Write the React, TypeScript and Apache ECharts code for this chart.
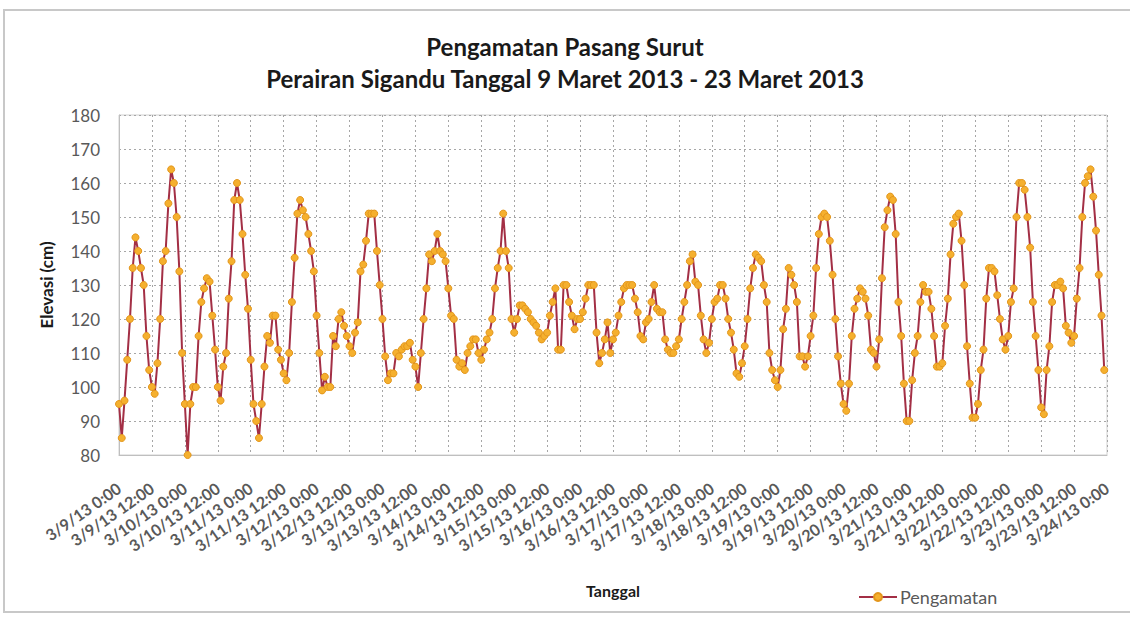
import React, { useEffect, useRef } from "react";
import * as echarts from "echarts";

// Hourly observed elevation (cm), starting 3/9/13 0:00
const elevasi: number[] = [
  95, 85, 96, 108, 120, 135, 144, 140, 135, 130,
  115, 105, 100, 98, 107, 120, 137, 140, 154, 164,
  160, 150, 134, 110, 95, 80, 95, 100, 100, 115,
  125, 129, 132, 131, 121, 111, 100, 96, 106, 110,
  126, 137, 155, 160, 155, 145, 133, 123, 108, 95,
  90, 85, 95, 106, 115, 113, 121, 121, 111, 108,
  104, 102, 110, 125, 138, 151, 155, 152, 150, 145,
  140, 134, 121, 110, 99, 103, 100, 100, 115, 112,
  120, 122, 118, 115, 112, 110, 116, 119, 134, 136,
  143, 151, 151, 151, 140, 130, 120, 109, 102, 104,
  104, 110, 109, 111, 112, 112, 113, 108, 106, 100,
  110, 120, 129, 139, 137, 140, 145, 140, 139, 137,
  129, 121, 120, 108, 106, 107, 105, 110, 112, 114,
  114, 110, 108, 111, 114, 116, 120, 129, 135, 140,
  151, 140, 135, 120, 116, 120, 124, 124, 123, 122,
  120, 119, 118, 116, 114, 115, 116, 121, 125, 129,
  111, 111, 130, 130, 125, 121, 117, 120, 120, 122,
  126, 130, 130, 130, 116, 107, 110, 114, 119, 110,
  114, 116, 121, 125, 129, 130, 130, 130, 126, 122,
  115, 114, 119, 120, 125, 130, 123, 122, 122, 114,
  111, 110, 110, 112, 114, 120, 125, 130, 137, 139,
  131, 130, 121, 114, 110, 113, 120, 125, 126, 130,
  130, 126, 120, 116, 111, 104, 103, 107, 112, 120,
  129, 135, 139, 138, 137, 130, 125, 110, 105, 102,
  100, 105, 117, 123, 135, 133, 130, 125, 109, 109,
  106, 109, 115, 121, 135, 145, 150, 151, 150, 143,
  133, 120, 109, 101, 95, 93, 101, 115, 123, 126,
  129, 128, 126, 121, 111, 110, 106, 114, 132, 147,
  152, 156, 155, 145, 125, 115, 101, 90, 90, 102,
  110, 115, 125, 130, 128, 128, 123, 115, 106, 106,
  107, 118, 126, 139, 148, 150, 151, 143, 130, 112,
  101, 91, 91, 95, 105, 111, 126, 135, 135, 134,
  127, 120, 114, 111, 115, 125, 129, 150, 160, 160,
  158, 150, 141, 125, 115, 105, 94, 92, 105, 112,
  125, 130, 130, 131, 129, 118, 116, 113, 115, 126,
  135, 150, 160, 162, 164, 156, 146, 133, 121, 105,
];

// Tick labels, one every 12 hours
const tickLabels: string[] = [
  "3/9/13 0:00", "3/9/13 12:00", "3/10/13 0:00", "3/10/13 12:00",
  "3/11/13 0:00", "3/11/13 12:00", "3/12/13 0:00", "3/12/13 12:00",
  "3/13/13 0:00", "3/13/13 12:00", "3/14/13 0:00", "3/14/13 12:00",
  "3/15/13 0:00", "3/15/13 12:00", "3/16/13 0:00", "3/16/13 12:00",
  "3/17/13 0:00", "3/17/13 12:00", "3/18/13 0:00", "3/18/13 12:00",
  "3/19/13 0:00", "3/19/13 12:00", "3/20/13 0:00", "3/20/13 12:00",
  "3/21/13 0:00", "3/21/13 12:00", "3/22/13 0:00", "3/22/13 12:00",
  "3/23/13 0:00", "3/23/13 12:00", "3/24/13 0:00",
];

const yMin = 80;
const yMax = 180;
const yStep = 10;
const hoursPerTick = 12;

const titleLine1 = "Pengamatan Pasang Surut";
const titleLine2 = "Perairan Sigandu Tanggal 9 Maret 2013 - 23 Maret 2013";
const seriesName = "Pengamatan";

export default function App() {
  const ref = useRef<HTMLDivElement>(null);

  useEffect(() => {
    if (!ref.current) return;
    const chart = echarts.init(ref.current, null, { renderer: "svg" });
    const data = elevasi.map((v, i) => [i, v]);
    const font = "Lato, 'Open Sans', sans-serif";
    chart.setOption({
      animation: false,
      backgroundColor: "#ffffff",
      textStyle: { fontFamily: font },
      title: [
        {
          text: titleLine1,
          left: "center",
          top: 29,
          textStyle: { fontFamily: font, fontSize: 24, fontWeight: "bold", color: "#1a1a1a" },
        },
        {
          text: titleLine2,
          left: "center",
          top: 61,
          textStyle: { fontFamily: font, fontSize: 24, fontWeight: "bold", color: "#1a1a1a" },
        },
      ],
      legend: {
        left: 853,
        top: 583,
        itemWidth: 38,
        itemHeight: 10,
        itemGap: 4,
        textStyle: { fontFamily: font, fontSize: 18, color: "#595959", padding: [0, 0, 0, -2] },
        data: [seriesName],
      },
      grid: { left: 119, right: 23, top: 115, bottom: 163 },
      xAxis: {
        type: "value",
        min: 0,
        max: (tickLabels.length - 1) * hoursPerTick,
        interval: hoursPerTick,
        name: "Tanggal",
        nameLocation: "middle",
        nameGap: 127,
        nameTextStyle: { fontFamily: font, fontSize: 16, fontWeight: "bold", color: "#1a1a1a" },
        axisLine: { show: true, lineStyle: { color: "#bfbfbf", width: 1 } },
        axisTick: { show: false },
        axisLabel: {
          rotate: 35,
          margin: 31,
          fontSize: 16,
          fontWeight: "bold",
          color: "#595959",
          fontFamily: font,
          formatter: (v: number) => tickLabels[Math.round(v / hoursPerTick)] ?? "",
        },
        splitLine: { show: true, lineStyle: { color: "#a6a6a6", type: [2, 3], width: 1 } },
      },
      yAxis: {
        type: "value",
        min: yMin,
        max: yMax,
        interval: yStep,
        name: "Elevasi (cm)",
        nameLocation: "middle",
        nameGap: 64,
        nameTextStyle: { fontFamily: font, fontSize: 17, fontWeight: "bold", color: "#1a1a1a" },
        axisLine: { show: true, lineStyle: { color: "#bfbfbf", width: 1 } },
        axisTick: { show: false },
        axisLabel: { margin: 19, fontSize: 17, color: "#595959", fontFamily: font },
        splitLine: { show: true, lineStyle: { color: "#a6a6a6", type: [2, 3], width: 1 } },
      },
      graphic: [
        {
          type: "rect",
          shape: { x: 4, y: 10, width: 1140, height: 602 },
          style: { fill: "none", stroke: "#c8c8c8", lineWidth: 2 },
          silent: true,
        },
        {
          type: "rect",
          shape: { x: 119, y: 115, width: 988, height: 340 },
          style: { fill: "none", stroke: "#d0d0d0", lineWidth: 1 },
          silent: true,
        },
      ],
      series: [
        {
          name: seriesName,
          type: "line",
          data,
          symbol: "circle",
          symbolSize: 7,
          showAllSymbol: true,
          lineStyle: { color: "#a32f45", width: 2 },
          itemStyle: { color: "#f5b02e", borderColor: "#e3961c", borderWidth: 1 },
        },
      ],
    });
    return () => chart.dispose();
  }, []);

  return (
    <div
      ref={ref}
      style={{ position: "fixed", left: 0, top: 0, width: 1130, height: 618 }}
    />
  );
}
